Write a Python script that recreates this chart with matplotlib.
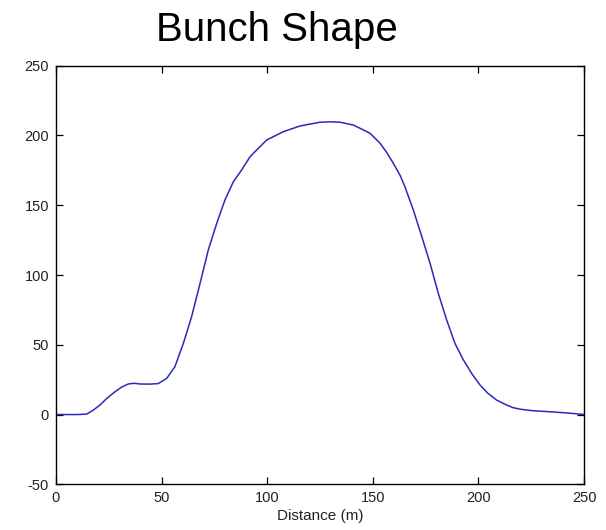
import matplotlib
matplotlib.use('Agg')
import matplotlib.pyplot as plt

# distance (m) and bunch amplitude
distance = [0, 5, 10, 14.5, 17.5, 20.8, 24, 27.9, 31, 34.2, 37, 39.8, 44.5, 48.4,
            52.4, 56.3, 60.3, 64.2, 68.2, 72.1, 76.1, 80.0, 84.0, 87.9, 91.9,
            95.8, 99.8, 107.6, 115.5, 125, 130, 134.5, 140.8, 148.7, 153.4,
            156.6, 159.7, 162.9, 165.2, 169.2, 173.2, 177.1, 181.0, 185.0,
            188.9, 192.9, 196.8, 200.8, 204.5, 208.6, 213.4, 216.5, 220, 226,
            235, 243, 249.7]
amplitude = [0, 0, 0, 0.3, 3, 6.8, 11.5, 16.3, 19.6, 21.9, 22.4, 21.9, 21.8, 22.2,
             25.9, 34.3, 51.0, 70.1, 94.0, 117.9, 137.0, 153.8, 166.9, 175.3, 184.8,
             190.8, 196.8, 202.7, 206.8, 209.5, 209.8, 209.5, 207.5, 201.6, 194.5,
             187.8, 180.1, 171.5, 163.3, 146.6, 127.5, 108.4, 86.9, 67.7,
             51.0, 39.1, 29.5, 21.1, 15.2, 10.4, 6.8, 4.9, 3.8, 2.7,
             1.9, 1.0, 0.1]

x_ticks = [0, 50, 100, 150, 200, 250]
y_ticks = [-50, 0, 50, 100, 150, 200, 250]

plt.rcParams['font.family'] = ['Liberation Sans', 'DejaVu Sans']
plt.rcParams['axes.unicode_minus'] = False

fig = plt.figure(figsize=(6.06, 5.30), dpi=100)
ax = fig.add_axes([0.0924, 0.0862, 0.8713, 0.7898])

ax.plot(distance, amplitude, color='#2a2ab8', linewidth=1.1)

ax.set_xlim(0, 250)
ax.set_ylim(-50, 250)
ax.set_xticks(x_ticks)
ax.set_yticks(y_ticks)
ax.tick_params(direction='in', length=5, width=0.9, labelsize=10.5,
               top=True, right=True, pad=5, labelcolor='#222222')
for s in ax.spines.values():
    s.set_linewidth(1.0)

ax.set_xlabel('Distance (m)', fontsize=11, labelpad=3, color='#222222')
fig.text(277 / 606, 1 - 41 / 530, 'Bunch Shape', fontsize=29,
         ha='center', va='baseline')

fig.savefig('out.png', dpi=100)
